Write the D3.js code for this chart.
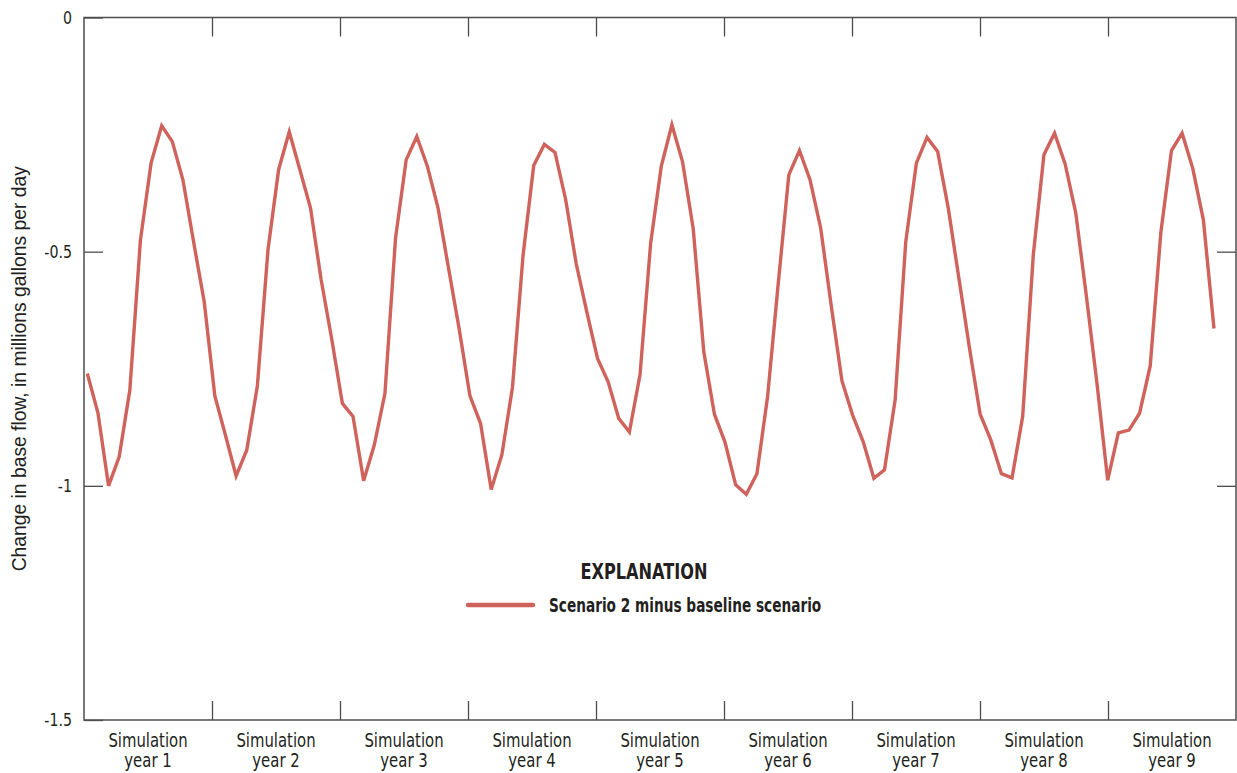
<!DOCTYPE html>
<html lang="en">
<head>
    <meta charset="UTF-8">
    <title>Change in base flow</title>
    <script src="https://d3js.org/d3.v7.min.js"></script>
    <style>
        body {
            margin: 0;
            background: #ffffff;
        }
        svg text {
            fill: #231f20;
        }
        .narrow {
            font-family: "Liberation Sans Narrow", "Arial Narrow", "DejaVu Sans Condensed", sans-serif;
        }
    </style>
</head>
<body>
    <div id="chart"></div>

    <script>
        // monthly values, millions of gallons per day (scenario 2 minus baseline)
        const year1 = [-0.760, -0.844, -1.000, -0.938, -0.796, -0.475, -0.311, -0.231, -0.265, -0.347, -0.479, -0.607];
        const year2 = [-0.808, -0.892, -0.979, -0.924, -0.787, -0.496, -0.325, -0.244, -0.325, -0.407, -0.560, -0.687];
        const year3 = [-0.824, -0.852, -0.989, -0.913, -0.803, -0.471, -0.304, -0.254, -0.318, -0.407, -0.537, -0.667];
        const year4 = [-0.808, -0.867, -1.008, -0.934, -0.790, -0.507, -0.316, -0.271, -0.288, -0.388, -0.526, -0.629];
        const year5 = [-0.728, -0.778, -0.856, -0.885, -0.763, -0.482, -0.318, -0.229, -0.308, -0.450, -0.714, -0.847];
        const year6 = [-0.907, -0.998, -1.018, -0.974, -0.810, -0.569, -0.336, -0.284, -0.347, -0.450, -0.617, -0.776];
        const year7 = [-0.849, -0.906, -0.984, -0.966, -0.817, -0.479, -0.311, -0.256, -0.286, -0.407, -0.557, -0.706];
        const year8 = [-0.847, -0.902, -0.974, -0.983, -0.852, -0.507, -0.293, -0.247, -0.313, -0.418, -0.596, -0.783];
        const year9 = [-0.988, -0.887, -0.881, -0.845, -0.744, -0.459, -0.284, -0.247, -0.322, -0.432, -0.664];

        const yearLabels = ["year 1", "year 2", "year 3", "year 4", "year 5", "year 6", "year 7", "year 8", "year 9"];
        const yTicks = [0, -0.5, -1, -1.5];
        const seriesName = "Scenario 2 minus baseline scenario";

        const width = 1237, height = 773;
        const plotLeft = 84, plotRight = 1236, plotTop = 17.5, plotBottom = 720;
        const lineColor = "#d0625c";
        const frameColor = "#4d4d4f";

        const values = [].concat(year1, year2, year3, year4, year5, year6, year7, year8, year9);
        const data = values.map((v, i) => ({ month: i, value: v }));

        const svg = d3.select("#chart")
            .append("svg")
            .attr("width", width)
            .attr("height", height);

        // squeeze text horizontally, the original uses a condensed face
        function condense(sel, factor) {
            sel.each(function () {
                const w = this.getComputedTextLength();
                d3.select(this)
                    .attr("textLength", w * factor)
                    .attr("lengthAdjust", "spacingAndGlyphs");
            });
        }

        // year scale for ticks/labels, month scale for the series
        const xYear = d3.scaleLinear().domain([0, 9]).range([plotLeft, plotRight]);
        const xMonth = d3.scaleLinear().domain([-0.31, 108.07]).range([plotLeft, plotRight]);
        const y = d3.scaleLinear().domain([0, -1.5]).range([plotTop, plotBottom]);

        // inward ticks on all four sides
        const styleAxis = g => {
            g.select(".domain").remove();
            g.selectAll(".tick line").attr("stroke", frameColor).attr("stroke-width", 1.3);
        };

        svg.append("g")
            .attr("transform", `translate(${plotLeft},0)`)
            .attr("class", "narrow")
            .call(d3.axisLeft(y).tickValues(yTicks).tickSizeInner(-19).tickSizeOuter(0)
                .tickPadding(12).tickFormat(d => String(d)))
            .call(styleAxis)
            .call(g => g.attr("font-family", null).attr("font-size", 17.5))
            .call(g => g.selectAll(".tick text").attr("fill", "#231f20").call(condense, 0.9));

        svg.append("g")
            .attr("transform", `translate(${plotRight},0)`)
            .call(d3.axisRight(y).tickValues([-0.5, -1]).tickSizeInner(-19).tickSizeOuter(0).tickFormat(""))
            .call(styleAxis);

        svg.append("g")
            .attr("transform", `translate(0,${plotTop})`)
            .call(d3.axisTop(xYear).tickValues(d3.range(1, 9)).tickSizeInner(-19).tickSizeOuter(0).tickFormat(""))
            .call(styleAxis);

        svg.append("g")
            .attr("transform", `translate(0,${plotBottom})`)
            .call(d3.axisBottom(xYear).tickValues(d3.range(1, 9)).tickSizeInner(-19).tickSizeOuter(0).tickFormat(""))
            .call(styleAxis);

        svg.append("rect")
            .attr("x", plotLeft)
            .attr("y", plotTop)
            .attr("width", plotRight - plotLeft)
            .attr("height", plotBottom - plotTop)
            .attr("fill", "none")
            .attr("stroke", frameColor)
            .attr("stroke-width", 1.5);

        // year labels under the plot, two lines each
        const labelG = svg.append("g")
            .attr("class", "narrow")
            .attr("font-size", 19)
            .attr("text-anchor", "middle");
        labelG.selectAll("text.l1")
            .data(yearLabels)
            .enter().append("text")
            .attr("class", "l1")
            .attr("x", (d, i) => xYear(i + 0.5))
            .attr("y", 747)
            .text("Simulation")
            .call(condense, 0.87);
        labelG.selectAll("text.l2")
            .data(yearLabels)
            .enter().append("text")
            .attr("class", "l2")
            .attr("x", (d, i) => xYear(i + 0.5))
            .attr("y", 767)
            .text(d => d)
            .call(condense, 0.87);

        // y axis title
        svg.append("text")
            .attr("transform", `translate(26,${(plotTop + plotBottom) / 2}) rotate(-90)`)
            .attr("text-anchor", "middle")
            .attr("font-family", "'Liberation Sans', Arial, sans-serif")
            .attr("font-size", 19.3)
            .text("Change in base flow, in millions gallons per day");

        // series
        const line = d3.line()
            .x(d => xMonth(d.month))
            .y(d => y(d.value));

        svg.append("path")
            .datum(data)
            .attr("fill", "none")
            .attr("stroke", lineColor)
            .attr("stroke-width", 3.4)
            .attr("stroke-linejoin", "miter")
            .attr("d", line);

        // legend
        const legend = svg.append("g").attr("class", "narrow").attr("font-weight", "bold");
        legend.append("text")
            .attr("x", 644)
            .attr("y", 579)
            .attr("text-anchor", "middle")
            .attr("font-size", 20.5)
            .text("EXPLANATION")
            .call(condense, 0.875);
        legend.append("line")
            .attr("x1", 468)
            .attr("x2", 533)
            .attr("y1", 605)
            .attr("y2", 605)
            .attr("stroke", lineColor)
            .attr("stroke-width", 4.5)
            .attr("stroke-linecap", "round");
        legend.append("text")
            .attr("x", 549)
            .attr("y", 612)
            .attr("font-size", 19)
            .text(seriesName)
            .call(condense, 0.8);
    </script>
</body>
</html>
